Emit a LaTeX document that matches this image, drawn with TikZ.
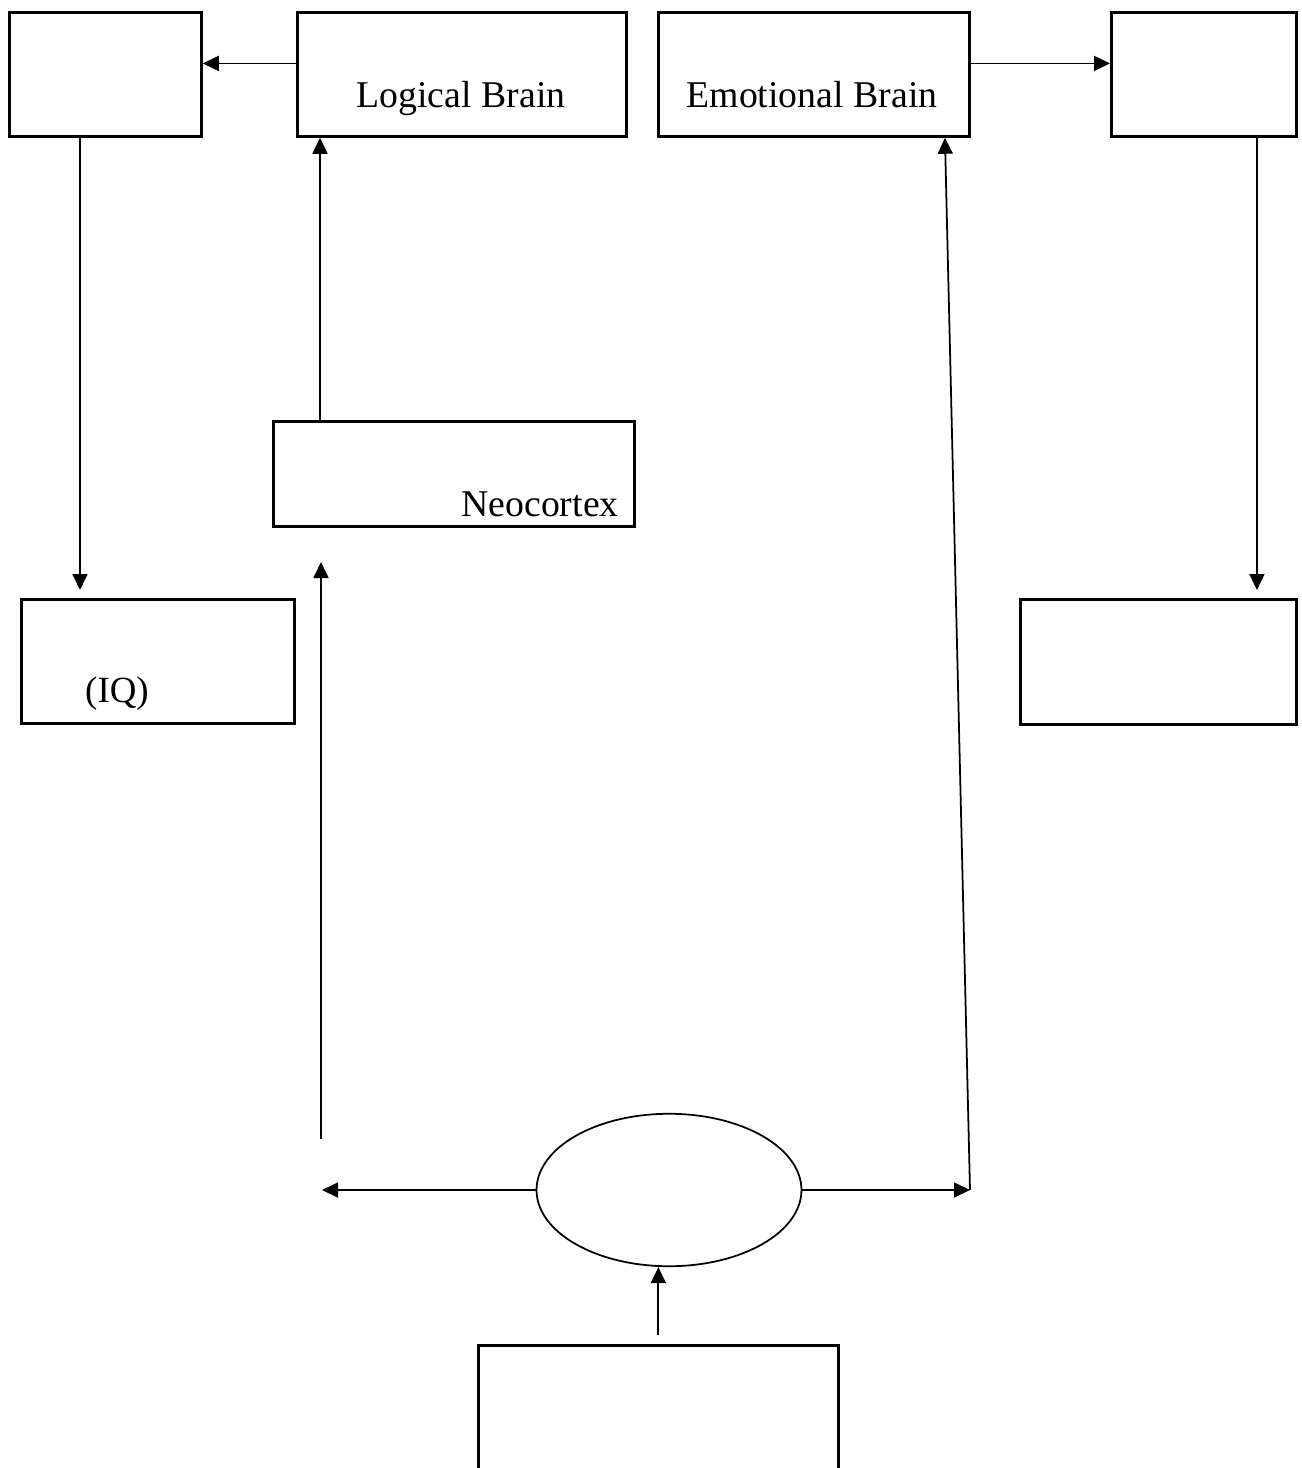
\documentclass[tikz,border=0pt]{standalone}
\usepackage{fontspec}
\setmainfont{Liberation Serif}
\usetikzlibrary{arrows.meta,shapes.geometric}
\tikzset{
  box/.style={draw,line width=1.6pt,inner sep=0pt,anchor=north west},
  boxtext/.style={font=\fontsize{21.5}{26}\selectfont,inner sep=0pt},
  link/.style={line width=1pt}
}
\begin{document}
\begin{tikzpicture}[x=0.02cm,y=-0.02cm,>={Triangle[length=0.32cm,width=0.3cm]}]
\clip (0,0) rectangle (1302,1468);
\fill[white] (0,0) rectangle (1302,1468);
% top row
\node[box,minimum width=3.84cm,minimum height=2.48cm] (A) at (8,11) {};
\node[box,minimum width=6.58cm,minimum height=2.48cm] (B) at (296,11) {};
\node[box,minimum width=6.22cm,minimum height=2.48cm] (C) at (657,11) {};
\node[box,minimum width=3.7cm,minimum height=2.48cm] (D) at (1110,11) {};
\node[boxtext,anchor=base] (Btext) at (461,107) {Logical Brain};
\node[boxtext,anchor=base] (Ctext) at (812,107) {Emotional Brain};
% middle
\node[box,minimum width=7.22cm,minimum height=2.1cm] (F) at (272,420) {};
\node[boxtext,anchor=base east,font=\fontsize{21.5}{26}\selectfont] (Ftext) at (619,516) {Neocortex};
\node[box,minimum width=5.46cm,minimum height=2.48cm] (E) at (20,598) {};
\node[boxtext,anchor=base,font=\fontsize{21}{25}\selectfont] (Etext) at (117,702) {(IQ)};
\node[box,minimum width=5.52cm,minimum height=2.5cm] (I) at (1019,598) {};
% bottom
\node[draw,ellipse,line width=1pt,minimum width=5.3cm,minimum height=3.05cm,inner sep=0pt] (G) at (669,1190) {};
\node[box,minimum width=7.2cm,minimum height=3cm] (H) at (477,1344) {};
\coordinate (gl) at (322,1190);
\coordinate (gr) at (970,1190);
\coordinate (vbot) at (321,1139);
\coordinate (vtop) at (321,562);
% connectors
\draw[link,->] ([yshift=0.22cm]B.west) -- ([yshift=0.22cm]A.east);
\draw[link,->] ([yshift=0.22cm]C.east) -- ([yshift=0.22cm]D.west);
\draw[link,->] ([xshift=1.44cm]A.south west) -- ([xshift=1.2cm,yshift=0.16cm]E.north west);
\draw[link,->] ([xshift=2.94cm]D.south west) -- ([xshift=4.76cm,yshift=0.16cm]I.north west);
\draw[link,->] ([xshift=0.96cm,yshift=-0.06cm]F.north west) -- ([xshift=0.48cm]B.south west);
\draw[link,->] (vbot) -- (vtop);
\draw[link,->] (G.west) -- (gl);
\draw[link,->] (G.east) -- (gr);
\draw[link,->] (gr) -- ([xshift=5.76cm]C.south west);
\draw[link,->] ([yshift=0.18cm]H.north) -- (H.north |- G.south);
\end{tikzpicture}
\end{document}
